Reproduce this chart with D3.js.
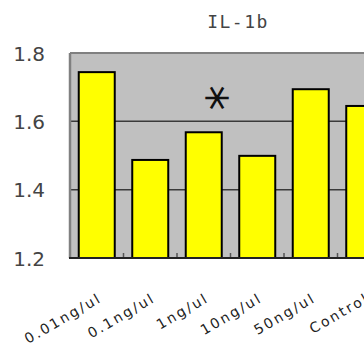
<!DOCTYPE html>
<html>
<head>
<meta charset="utf-8">
<script src="https://cdn.jsdelivr.net/npm/d3@7"></script>
<style>
  html, body { margin: 0; padding: 0; background: #fff; }
  svg { display: block; }
</style>
</head>
<body>
<svg id="chart" width="364" height="347"></svg>
<script>
const title = "IL-1b";
const categories = ["0.01ng/ul", "0.1ng/ul", "1ng/ul", "10ng/ul", "50ng/ul", "Control"];
const values = [1.744, 1.487, 1.568, 1.499, 1.694, 1.645];
const yTicks = [1.2, 1.4, 1.6, 1.8];
const annotation = "*";

const svg = d3.select("#chart");
const pLeft = 70, pTop = 53, pBottom = 258, pRight = 391;

const x = d3.scaleBand().domain(categories).range([pLeft, pRight])
  .paddingInner(0.327).paddingOuter(0.1635);
const y = d3.scaleLinear().domain([1.2, 1.8]).range([pBottom, pTop]);

// plot background
svg.append("rect")
  .attr("x", pLeft).attr("y", pTop)
  .attr("width", pRight - pLeft).attr("height", pBottom - pTop)
  .attr("fill", "#c0c0c0");

// gridlines
svg.append("g").selectAll("line")
  .data(yTicks.filter(t => t > 1.2 && t < 1.8))
  .join("line")
  .attr("x1", pLeft).attr("x2", pRight)
  .attr("y1", d => y(d)).attr("y2", d => y(d))
  .attr("stroke", "#3a3a3a").attr("stroke-width", 1.5);

// plot border top/left
svg.append("line").attr("x1", pLeft).attr("x2", pRight)
  .attr("y1", pTop).attr("y2", pTop)
  .attr("stroke", "#808080").attr("stroke-width", 2);
svg.append("line").attr("x1", pLeft).attr("x2", pLeft)
  .attr("y1", pTop).attr("y2", pBottom)
  .attr("stroke", "#808080").attr("stroke-width", 2.5);

// bars
svg.append("g").selectAll("rect")
  .data(values)
  .join("rect")
  .attr("x", (d, i) => x(categories[i]))
  .attr("width", x.bandwidth())
  .attr("y", d => y(d))
  .attr("height", d => y(1.2) - y(d))
  .attr("fill", "#ffff00")
  .attr("stroke", "#000")
  .attr("stroke-width", 2);

// x axis with ticks at band boundaries
const bounds = categories.slice(1).map(c => x(c) - x.step() * x.paddingInner() / 2);
svg.append("g").selectAll("line")
  .data(bounds)
  .join("line")
  .attr("x1", d => d).attr("x2", d => d)
  .attr("y1", pBottom).attr("y2", pBottom - 5)
  .attr("stroke", "#555").attr("stroke-width", 1.5);
svg.append("line").attr("x1", pLeft - 1).attr("x2", pRight)
  .attr("y1", pBottom).attr("y2", pBottom)
  .attr("stroke", "#222").attr("stroke-width", 2);

// y tick labels
const yAxis = d3.axisLeft(y).tickValues(yTicks).tickFormat(d3.format(".1f")).tickSize(0).tickPadding(0);
const ya = svg.append("g").attr("transform", `translate(${pLeft - 25},0)`).call(yAxis);
ya.select(".domain").remove();
ya.selectAll("text")
  .attr("font-family", "DejaVu Sans")
  .attr("font-size", 20)
  .attr("fill", "#444")
  .attr("dy", "0.35em");

// x labels
svg.append("g").selectAll("text")
  .data(categories)
  .join("text")
  .attr("transform", d => `translate(${x(d) + x.bandwidth() / 2 + 6},${301}) rotate(-30)`)
  .attr("text-anchor", "end")
  .attr("font-family", "DejaVu Sans")
  .attr("font-size", 14)
  .attr("letter-spacing", 2.2)
  .attr("fill", "#222")
  .text(d => d);

// title
svg.append("text")
  .attr("x", 238).attr("y", 28)
  .attr("text-anchor", "middle")
  .attr("font-family", "DejaVu Sans Mono")
  .attr("font-size", 18)
  .attr("letter-spacing", 1.5)
  .attr("fill", "#444")
  .text(title);

// significance asterisk (rotated so one arm is vertical)
svg.append("text")
  .attr("transform", "translate(217,98) rotate(90)")
  .attr("dy", "0.52em")
  .attr("text-anchor", "middle")
  .attr("font-family", "DejaVu Sans")
  .attr("font-weight", 200)
  .attr("font-size", 48)
  .attr("fill", "#111")
  .attr("stroke", "#111")
  .attr("stroke-width", 1.4)
  .text(annotation);
</script>
</body>
</html>
